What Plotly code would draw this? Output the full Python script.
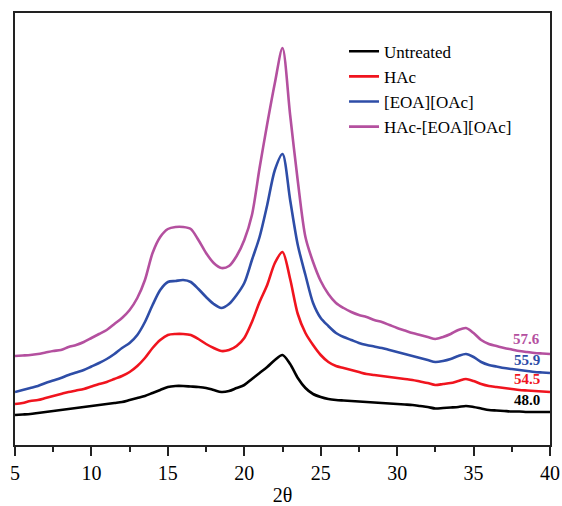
import plotly.graph_objects as go

two_theta = [5 + 0.5 * i for i in range(71)]

untreated = [30, 30.5, 31, 32, 33, 34, 35, 36, 37, 38, 39, 40, 41, 42, 43, 45, 47, 49, 52, 55,
             58, 59, 59, 58.5, 58, 57, 55, 53, 54, 57, 60, 66, 72, 78, 85, 90, 81, 67, 57, 51,
             48, 46, 45, 44.5, 44, 43.5, 43, 42.5, 42, 41.5, 41, 40.5, 40, 39, 38, 36.5, 37, 37.5,
             38, 39, 38, 36.5, 35, 34.5, 34, 33.5, 33.5, 33, 33, 33, 33]

hac = [41, 42, 44, 45, 47, 49, 51, 53, 54.5, 56, 58.5, 61, 63, 66, 69, 73, 79, 87, 97, 105,
       110, 111, 111, 110, 106, 101, 97, 94, 95, 99, 107, 123, 143, 160, 182, 193, 166, 131, 112, 100,
       90, 83, 79, 77, 75, 73, 71, 70, 69, 68, 67, 66, 65, 63.5, 62, 60, 61, 62,
       64, 66, 64, 61, 59, 58, 57, 56, 55, 54.5, 54, 53.5, 53]

eoa = [53, 55, 57, 59, 62, 64.5, 67, 70, 72.5, 75, 78.5, 82, 86, 91, 97, 102, 110, 123, 140, 155,
       163, 164, 165, 163, 156, 148, 141, 137, 141, 150, 162, 185, 208, 240, 275, 291, 245, 200, 170, 142,
       127, 119, 112, 108, 105, 102, 100, 98.5, 97, 95, 93, 91, 89, 87, 85, 83, 84, 86,
       89, 91, 88, 83, 80, 78.5, 77, 76, 75, 74, 73, 72.5, 72]

hac_eoa = [89, 89.5, 90, 91, 92.5, 94, 95, 98, 100, 103, 107, 111, 115, 121, 127, 135, 147, 165, 192, 208,
           216, 218, 218, 216, 205, 192, 182, 177, 179, 189, 205, 230, 277, 321, 362, 397, 330, 264, 208, 183,
           164, 151, 142, 137, 133, 130, 128, 125, 123, 120, 117, 114.5, 112, 110, 108, 106, 108, 111,
           115, 117, 112, 105, 101, 99, 97, 95.5, 94, 93, 92, 91.5, 91]

names = ["Untreated", "HAc", "[EOA][OAc]", "HAc-[EOA][OAc]"]
colors = ["#000000", "#F0141E", "#2E4DA7", "#B4509F"]
crystallinity = ["48.0", "54.5", "55.9", "57.6"]
label_y = [45, 66, 85, 106]

FONT = "Liberation Serif, Times New Roman, serif"

fig = go.Figure()
for name, ys, c in zip(names, [untreated, hac, eoa, hac_eoa], colors):
    fig.add_trace(go.Scatter(x=two_theta, y=ys, mode="lines", name=name,
                             line=dict(color=c, width=2.6, shape="spline", smoothing=0.8)))

for txt, yv, c in zip(crystallinity, label_y, colors):
    fig.add_annotation(x=39.5, y=yv, text=f"<b>{txt}</b>", showarrow=False, xanchor="right",
                       yanchor="middle", font=dict(family=FONT, size=15, color=c))

fig.update_layout(
    width=562, height=506,
    margin=dict(l=15, r=12, t=13, b=61, autoexpand=False),
    plot_bgcolor="white", paper_bgcolor="white",
    font=dict(family=FONT, size=20, color="black"),
    showlegend=True,
    legend=dict(x=0.615, y=0.952, xanchor="left", yanchor="top", bgcolor="rgba(0,0,0,0)",
                font=dict(family=FONT, size=17, color="black"), tracegroupgap=0,
                itemwidth=30),
)
fig.update_xaxes(range=[5, 40], tickmode="array", tickvals=[5, 10, 15, 20, 25, 30, 35, 40],
                 ticks="outside", ticklen=9, tickwidth=1.5, tickcolor="#222",
                 minor=dict(ticks="outside", ticklen=5, tickwidth=1.5, tickcolor="#222", dtick=2.5, tick0=5),
                 showline=True, linewidth=2, linecolor="#222", mirror=True,
                 showgrid=False, zeroline=False, automargin=False,
                 tickfont=dict(family=FONT, size=20),
                 title=dict(text="2θ", font=dict(family=FONT, size=20), standoff=22))
fig.update_yaxes(range=[0, 432], showticklabels=False, ticks="", showline=True, linewidth=2,
                 linecolor="#222", mirror=True, showgrid=False, zeroline=False, automargin=False)

fig.write_html("out.html")
